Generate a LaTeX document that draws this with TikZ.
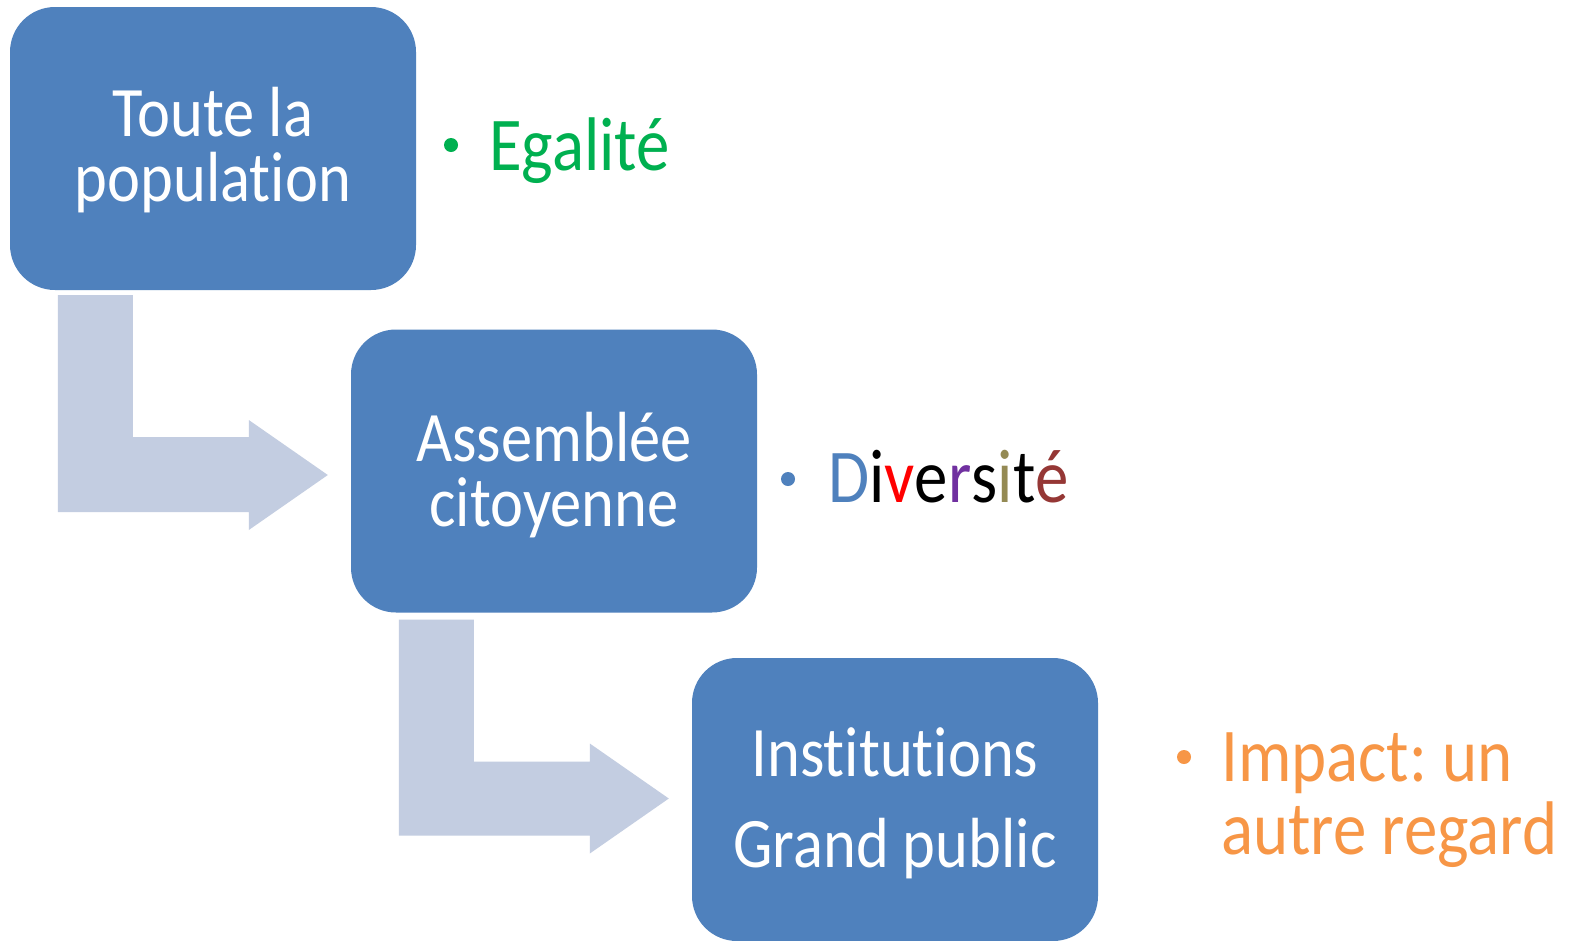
\documentclass[tikz,border=0pt]{standalone}
\usepackage{fontspec}
\setmainfont{Carlito}[FakeStretch=0.88,Ligatures=NoCommon]
\usetikzlibrary{calc}
\definecolor{boxblue}{HTML}{4F81BD}
\definecolor{arrowgrey}{HTML}{C3CDE1}
\definecolor{egal}{HTML}{00B050}
\definecolor{impact}{HTML}{F79646}
\definecolor{dpurple}{HTML}{7030A0}
\definecolor{dolive}{HTML}{948A54}
\definecolor{dbrown}{HTML}{953735}
\definecolor{dred}{HTML}{FF0000}
\newcommand{\lowerby}[2]{\raisebox{0pt}[\dimexpr\height+#1\relax][\depth]{#2}}
\tikzset{
  stagebox/.style={rectangle, rounded corners=45pt, fill=boxblue, text=white,
    minimum width=406pt, minimum height=283pt, inner sep=0pt, align=center,
    font=\fontsize{71}{65}\selectfont},
  conn/.style={fill=arrowgrey},
  bulletdot/.style={circle, inner sep=0pt, minimum size=14pt},
  sidetext/.style={inner sep=0pt, anchor=base west, font=\fontsize{76}{70}\selectfont}
}
\begin{document}
\frenchspacing
\begin{tikzpicture}[x=1pt,y=-1pt]
\useasboundingbox (0,0) rectangle (1571,940);
\fill[white] (0,0) rectangle (1571,940);
\begin{scope}
\clip (0,0) rectangle (1571,940);
\node[stagebox] (b1) at (213,148.5) {\lowerby{4pt}{\parbox{400pt}{\centering Toute la\\population}}};
\node[stagebox] (b2) at (554,471) {\lowerby{8pt}{\parbox{400pt}{\centering Assemblée\\citoyenne}}};
\node[stagebox] (b3) at (895,799.5) {\lowerby{8pt}{\parbox{400pt}{\centering Institutions\\[26pt]Grand public}}};
\end{scope}
% connector 1
\coordinate (t1) at ($(b2.west)+(-23,4)$);
\coordinate (a1) at ($(b1.south west)+(48,5)$);
\fill[conn] (a1) -- ($(b1.south west)+(123,5)$) |- ($(t1)+(-79,-38)$)
  -- ($(t1)+(-79,-55)$) -- (t1) -- ($(t1)+(-79,55)$) -- ($(t1)+(-79,37)$) -| (a1) -- cycle;
% connector 2
\coordinate (t2) at ($(b3.west)+(-23,-1)$);
\coordinate (a2) at ($(b2.south west)+(48,7)$);
\fill[conn] (a2) -- ($(b2.south west)+(123,7)$) |- ($(t2)+(-79,-37)$)
  -- ($(t2)+(-79,-55)$) -- (t2) -- ($(t2)+(-79,55)$) -- ($(t2)+(-79,37)$) -| (a2) -- cycle;
% side labels
\node[bulletdot, fill=egal] (d1) at (451,145) {};
\node[sidetext, text=egal] (l1) at (489,170) {Egalité};
\node[bulletdot, fill=boxblue] (d2) at (788,479) {};
\node[sidetext] (l2) at (828,502) {\textcolor{boxblue}{D}i\textcolor{dred}{v}e\textcolor{dpurple}{r}s\textcolor{dolive}{i}t\textcolor{dbrown}{é}};
\node[bulletdot, fill=impact] (d3) at (1184,757) {};
\node[sidetext, text=impact] (l3) at (1221,781) {\begin{tabular}[t]{@{}l@{}}Impact: un\\autre regard\end{tabular}};
\end{tikzpicture}
\end{document}
